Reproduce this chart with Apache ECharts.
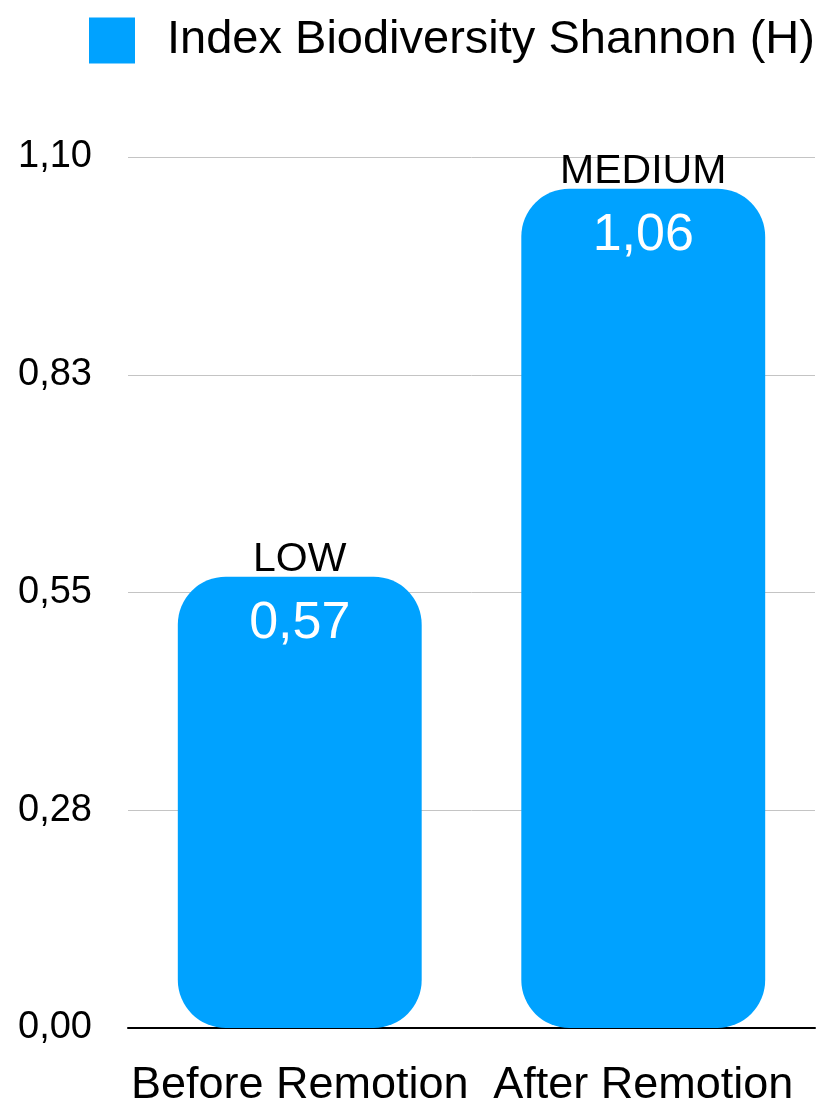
<!DOCTYPE html>
<html>
<head>
<meta charset="utf-8">
<script src="https://cdn.jsdelivr.net/npm/echarts@6/dist/echarts.min.js"></script>
<style>
  html, body { margin: 0; padding: 0; background: #ffffff; }
  #chart { width: 832px; height: 1109px; }
</style>
</head>
<body>
<div id="chart"></div>
<script>
// Shannon diversity index before and after removal
const categories = ['Before Remotion', 'After Remotion'];
const shannonValues = [0.57, 1.06];
const valueLabels = ['0,57', '1,06'];
const levelTags = ['LOW', 'MEDIUM'];
const yTickLabels = ['0,00', '0,28', '0,55', '0,83', '1,10'];
const seriesName = 'Index Biodiversity Shannon (H)';

const FONT = "'Liberation Sans', Helvetica, Arial, sans-serif";
const BLUE = '#00A2FF';

const chart = echarts.init(document.getElementById('chart'), null, { renderer: 'canvas' });

chart.setOption({
  backgroundColor: '#ffffff',
  animation: false,
  textStyle: { fontFamily: FONT },
  legend: {
    data: [seriesName],
    left: 84,
    top: 12,
    itemWidth: 46,
    itemHeight: 46,
    itemGap: 0,
    icon: 'rect',
    textStyle: {
      fontFamily: FONT,
      fontSize: 47,
      color: '#000000',
      padding: [4, 0, 0, 27]
    }
  },
  grid: {
    left: 128,
    right: 17,
    top: 157,
    bottom: 81
  },
  xAxis: {
    type: 'category',
    data: categories,
    axisLine: { show: true, lineStyle: { color: '#000000', width: 2 } },
    axisTick: { show: false },
    axisLabel: {
      interval: 0,
      margin: 35,
      fontFamily: FONT,
      fontSize: 45,
      color: '#000000'
    }
  },
  yAxis: {
    type: 'value',
    min: 0,
    max: 1.1,
    interval: 0.275,
    axisLine: { show: false },
    axisTick: { show: false },
    splitLine: { show: true, lineStyle: { color: '#c4c4c4', width: 1 } },
    axisLabel: {
      margin: 36,
      fontFamily: FONT,
      fontSize: 38,
      color: '#000000',
      formatter: function (value, index) { return yTickLabels[index]; }
    }
  },
  series: [
    {
      name: seriesName,
      type: 'bar',
      data: shannonValues,
      barWidth: '71%',
      itemStyle: { color: BLUE, borderRadius: 48 },
      label: {
        show: true,
        position: 'insideTop',
        distance: 21,
        fontFamily: FONT,
        fontSize: 52,
        color: '#ffffff',
        formatter: function (p) { return valueLabels[p.dataIndex]; }
      }
    },
    {
      name: 'level',
      type: 'bar',
      data: shannonValues,
      barWidth: '71%',
      barGap: '-100%',
      silent: true,
      itemStyle: { color: 'rgba(0,0,0,0)' },
      label: {
        show: true,
        position: 'top',
        distance: -4,
        fontFamily: FONT,
        fontSize: 41,
        color: '#000000',
        formatter: function (p) { return levelTags[p.dataIndex]; }
      }
    }
  ]
});
</script>
</body>
</html>
